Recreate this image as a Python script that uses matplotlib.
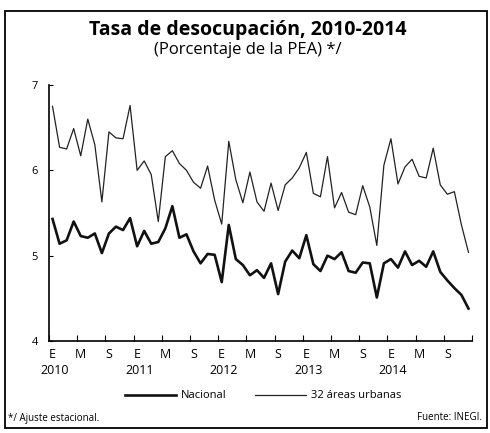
import matplotlib
matplotlib.use("Agg")
import matplotlib.pyplot as plt
from matplotlib.patches import Rectangle
import matplotlib.transforms as mtransforms

plt.rcParams['font.family'] = ['Open Sans', 'DejaVu Sans']

years = ["2010", "2011", "2012", "2013", "2014"]
month_labels = ["E", "M", "S"]

urbanas = [6.75, 6.27, 6.25, 6.49, 6.17, 6.60, 6.30, 5.63, 6.45, 6.38,
           6.37, 6.76, 6.00, 6.11, 5.95, 5.40, 6.16, 6.23, 6.08, 6.00,
           5.86, 5.79, 6.05, 5.65, 5.37, 6.34, 5.89, 5.62, 5.98, 5.63,
           5.52, 5.85, 5.53, 5.83, 5.91, 6.03, 6.21, 5.73, 5.69, 6.16,
           5.56, 5.74, 5.51, 5.48, 5.82, 5.57, 5.12, 6.06, 6.37, 5.84,
           6.04, 6.13, 5.93, 5.91, 6.26, 5.83, 5.72, 5.75, 5.36, 5.04]

nacional = [5.43, 5.14, 5.18, 5.40, 5.23, 5.21, 5.26, 5.03, 5.26, 5.34,
            5.30, 5.44, 5.11, 5.29, 5.14, 5.16, 5.32, 5.58, 5.21, 5.25,
            5.05, 4.91, 5.02, 5.01, 4.69, 5.36, 4.96, 4.89, 4.77, 4.83,
            4.74, 4.91, 4.55, 4.93, 5.06, 4.97, 5.24, 4.90, 4.82, 5.00,
            4.96, 5.04, 4.82, 4.80, 4.92, 4.91, 4.51, 4.91, 4.96, 4.86,
            5.05, 4.89, 4.94, 4.87, 5.05, 4.81, 4.71, 4.62, 4.54, 4.38]

n = len(nacional)
x = list(range(n))

fig = plt.figure(figsize=(4.9, 4.33), dpi=100)
ax = fig.add_axes([49/490, 1-341/433, (472-49)/490, (341-85)/433])

ax.plot(x, urbanas, color='#222222', lw=0.9, label='32 áreas urbanas')
ax.plot(x, nacional, color='#111111', lw=1.9, label='Nacional')

ax.set_xlim(-0.5, n - 0.5)
ax.set_ylim(4, 7)
ax.set_yticks([4, 5, 6, 7])
ax.set_yticklabels(['4', '5', '6', '7'], fontsize=8)
ax.tick_params(axis='y', direction='in', length=3, width=0.8, pad=8)

major = [i - 0.5 for i in range(0, n + 1, 4)]
ax.set_xticks(major)
ax.set_xticklabels([])
ax.tick_params(axis='x', which='major', direction='in', length=4, width=0.8)
minor = list(range(0, n, 4))
ax.set_xticks(minor, minor=True)
ax.set_xticklabels([month_labels[(i // 4) % 3] for i in minor], minor=True, fontsize=9)
ax.tick_params(axis='x', which='minor', length=0, pad=5)

trans = mtransforms.blended_transform_factory(ax.transData, fig.transFigure)
for k, yl in enumerate(years):
    ax.text(k * 12 + 0.3, 1 - 370/433, yl, transform=trans, ha='center', va='center', fontsize=9)

for s in ['top', 'right']:
    ax.spines[s].set_visible(False)
ax.spines['left'].set_linewidth(1.2)
ax.spines['bottom'].set_linewidth(1.2)

fig.text(0.505, 1 - 30/433, 'Tasa de desocupación, 2010-2014', ha='center', va='center',
         fontsize=14, fontweight='bold')
fig.text(0.505, 1 - 50/433, '(Porcentaje de la PEA) */', ha='center', va='center', fontsize=12)

# legend
fy = 1 - 395/433
fig.add_artist(plt.Line2D([125/490, 176/490], [fy, fy], color='#111111', lw=1.9))
fig.text(181/490, fy, 'Nacional', ha='left', va='center', fontsize=8)
fig.add_artist(plt.Line2D([255/490, 306/490], [fy, fy], color='#222222', lw=0.9))
fig.text(311/490, fy, '32 áreas urbanas', ha='left', va='center', fontsize=8)

fig.text(8/490, 1 - 418/433, '*/ Ajuste estacional.', ha='left', va='center', fontsize=7)
fig.text(482/490, 1 - 418/433, 'Fuente: INEGI.', ha='right', va='center', fontsize=7)

fig.add_artist(Rectangle((5/490, 1 - 428/433), (487-5)/490, (428-11)/433,
                         transform=fig.transFigure, fill=False, edgecolor='black', lw=1.3))

fig.savefig('out.png', dpi=100)
